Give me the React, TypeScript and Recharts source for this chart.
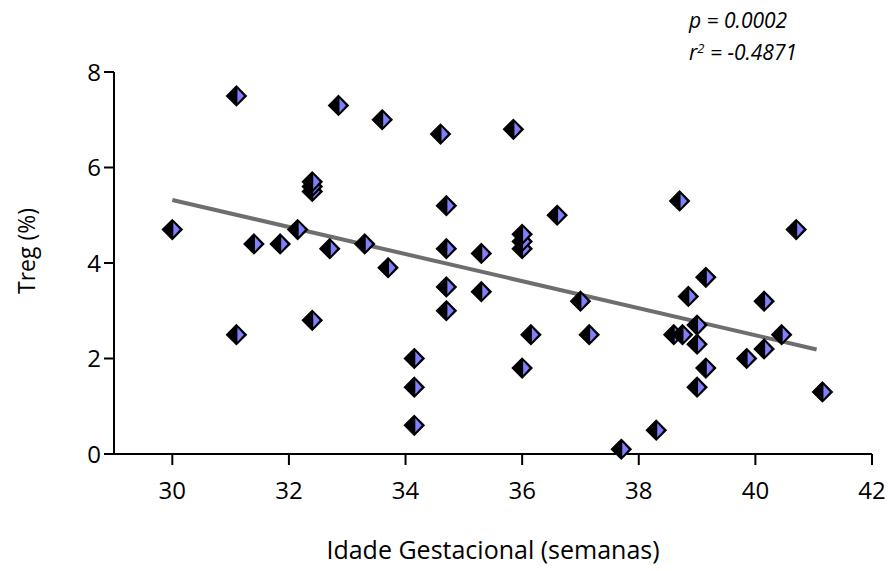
import { ScatterChart, Scatter, XAxis, YAxis, ReferenceLine, Label } from "recharts";

// gestational age (weeks) and Treg (%) for each subject
const gestationalAge = [
  30.0, 31.1, 31.1, 31.4, 31.85, 32.15, 32.4, 32.4, 32.4, 32.4, 32.7, 32.85, 33.3,
  33.6, 33.7, 34.15, 34.15, 34.15, 34.6, 34.7, 34.7, 34.7, 34.7, 35.3, 35.3, 35.85,
  36.0, 36.0, 36.0, 36.0, 36.15, 36.6, 37.0, 37.15, 37.7, 38.3, 38.6, 38.75, 38.7,
  38.85, 39.0, 39.0, 39.0, 39.15, 39.15, 39.85, 40.15, 40.15, 40.45, 40.7, 41.15,
];
const tregPercent = [
  4.7, 7.5, 2.5, 4.4, 4.4, 4.7, 5.5, 5.6, 5.7, 2.8, 4.3, 7.3, 4.4,
  7.0, 3.9, 2.0, 1.4, 0.6, 6.7, 5.2, 4.3, 3.5, 3.0, 4.2, 3.4, 6.8,
  4.3, 4.45, 4.6, 1.8, 2.5, 5.0, 3.2, 2.5, 0.1, 0.5, 2.5, 2.5, 5.3,
  3.3, 2.7, 2.3, 1.4, 3.7, 1.8, 2.0, 3.2, 2.2, 2.5, 4.7, 1.3,
];

const xTicks = [30, 32, 34, 36, 38, 40, 42];
const yTicks = [0, 2, 4, 6, 8];

// regression line ends
const trendX = [30, 41.05];
const trendY = [5.32, 2.19];

const points = gestationalAge.map((x, i) => ({ x, y: tregPercent[i] }));

const font = "'Open Sans', sans-serif";

function HalfDiamond(props: any) {
  const { cx, cy } = props;
  const r = 10;
  return (
    <g>
      <path
        d={`M${cx},${cy - r}L${cx + r},${cy}L${cx},${cy + r}L${cx - r},${cy}Z`}
        fill="#000"
        stroke="#000"
        strokeWidth={1.2}
      />
      <path
        d={`M${cx + 1},${cy - r + 3}L${cx + r - 2.6},${cy}L${cx + 1},${cy + r - 3}Z`}
        fill="#8080ff"
      />
    </g>
  );
}

export default function App() {
  return (
    <div style={{ position: "absolute", left: 0, top: 0, width: 888, height: 571, background: "#fff" }}>
      <ScatterChart width={888} height={571} margin={{ top: 72, right: 16, bottom: 0, left: 0 }}>
        <XAxis
          type="number"
          dataKey="x"
          domain={[29, 42]}
          ticks={xTicks}
          allowDataOverflow
          height={117}
          stroke="#000"
          strokeWidth={2}
          tickSize={11}
          tickMargin={17}
          tick={{ fontSize: 24, fill: "#000", fontFamily: font }}
        >
          <Label
            content={(p: any) => {
              const vb = p.viewBox;
              return (
                <text
                  x={vb.x + vb.width / 2}
                  y={552}
                  textAnchor="middle"
                  dominantBaseline="middle"
                  fontSize={25}
                  fontFamily={font}
                  fill="#000"
                >
                  Idade Gestacional (semanas)
                </text>
              );
            }}
          />
        </XAxis>
        <YAxis
          type="number"
          dataKey="y"
          domain={[0, 8]}
          ticks={yTicks}
          width={114}
          stroke="#000"
          strokeWidth={2}
          tickSize={10}
          tickMargin={3}
          tick={{ fontSize: 24, fill: "#000", fontFamily: font }}
        >
          <Label
            content={() => (
              <text
                x={29}
                y={251}
                transform="rotate(-90 29 251)"
                textAnchor="middle"
                dominantBaseline="middle"
                fontSize={23}
                fontFamily={font}
                fill="#000"
              >
                Treg (%)
              </text>
            )}
          />
        </YAxis>
        <Scatter data={points} shape={HalfDiamond} isAnimationActive={false} />
        <ReferenceLine
          segment={[
            { x: trendX[0], y: trendY[0] },
            { x: trendX[1], y: trendY[1] },
          ]}
          stroke="#6e6e6e"
          strokeWidth={4}
          ifOverflow="visible"
        />
      </ScatterChart>
      <div
        style={{
          position: "absolute",
          left: 689,
          top: 4,
          fontFamily: font,
          fontStyle: "italic",
          fontSize: 21,
          lineHeight: "32px",
          color: "#000",
          whiteSpace: "nowrap",
        }}
      >
        <div>p = 0.0002</div>
        <div>
          r<sup style={{ fontSize: 13, verticalAlign: "top", lineHeight: "24px" }}>2</sup> = -0.4871
        </div>
      </div>
    </div>
  );
}
